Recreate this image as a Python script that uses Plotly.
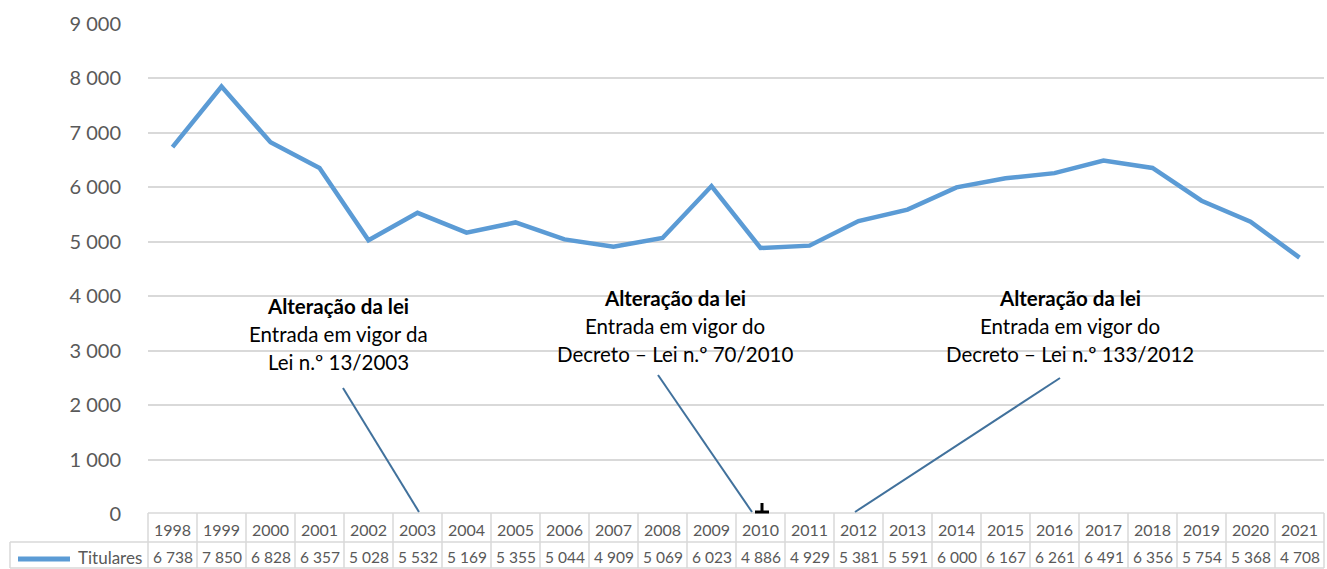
import plotly.graph_objects as go

years = list(range(1998, 2022))
titulares = [6738, 7850, 6828, 6357, 5028, 5532, 5169, 5355, 5044, 4909, 5069, 6023,
             4886, 4929, 5381, 5591, 6000, 6167, 6261, 6491, 6356, 5754, 5368, 4708]
series_name = "Titulares"
yticks = list(range(0, 10000, 1000))
notes = [
    ("Alteração da lei", "Entrada em vigor da", "Lei n.º 13/2003"),
    ("Alteração da lei", "Entrada em vigor do", "Decreto – Lei n.º 70/2010"),
    ("Alteração da lei", "Entrada em vigor do", "Decreto – Lei n.º 133/2012"),
]

W, H = 1327, 569
L, R = 148, 1324
T, B = 24, 514
PW, PH = R - L, B - T
FONT = "Lato, Open Sans, sans-serif"
BLUE = "#5B9BD5"
GRID = "#D9D9D9"
TXT = "#595959"

def px(p):
    return (p - L) / PW

def py(p):
    return (B - p) / PH

def fmt(v):
    return f"{v:,}".replace(",", " ")

fig = go.Figure()
fig.add_trace(go.Scatter(x=years, y=titulares, mode="lines", name=series_name,
                         line=dict(color=BLUE, width=4.5), showlegend=False, hoverinfo="skip"))

shapes = []
ann = []
# table
row1_top, row1_bot, row2_bot = 513, 542, 568
line = dict(color=GRID, width=1.5)
shapes.append(dict(type="line", xref="paper", yref="paper", x0=px(L), x1=px(R), y0=py(row1_top), y1=py(row1_top), line=line))
shapes.append(dict(type="line", xref="paper", yref="paper", x0=px(10), x1=px(R), y0=py(row1_bot), y1=py(row1_bot), line=line))
shapes.append(dict(type="line", xref="paper", yref="paper", x0=px(10), x1=px(R), y0=py(row2_bot), y1=py(row2_bot), line=line))
shapes.append(dict(type="line", xref="paper", yref="paper", x0=px(10), x1=px(10), y0=py(row1_bot), y1=py(row2_bot), line=line))
ncol = len(years)
for i in range(ncol + 1):
    xp = L + i * PW / ncol
    shapes.append(dict(type="line", xref="paper", yref="paper", x0=px(xp), x1=px(xp),
                       y0=py(row1_top), y1=py(row2_bot), line=line))
for y, v in zip(years, titulares):
    ann.append(dict(x=y, xref="x", y=py(529), yref="paper", text=str(y), xanchor="center", yanchor="middle",
                    showarrow=False, font=dict(size=16, color=TXT, family=FONT)))
    ann.append(dict(x=y, xref="x", y=py(557), yref="paper", text=fmt(v), xanchor="center", yanchor="middle",
                    showarrow=False, font=dict(size=15.5, color=TXT, family=FONT)))
# legend key in table
shapes.append(dict(type="line", xref="paper", yref="paper", x0=px(18), x1=px(70),
                   y0=py(559), y1=py(559), line=dict(color=BLUE, width=5)))
ann.append(dict(x=px(144), xref="paper", y=py(557), yref="paper", text=series_name, xanchor="right",
                yanchor="middle", showarrow=False, font=dict(size=17, color=TXT, family=FONT)))

# notes
centers = [(338, 306, (343, 388), (419, 512)),
           (675, 298, (658, 375), (752, 512)),
           (1070, 298, (1060, 378), (855, 512))]
for (t1, t2, t3), (cx, cy, a, b) in zip(notes, centers):
    for k, t in enumerate((t1, t2, t3)):
        txt = f"<b>{t}</b>" if k == 0 else t
        ann.append(dict(x=px(cx), xref="paper", y=py(cy + k * 28), yref="paper", text=txt,
                        xanchor="center", yanchor="middle",
                        showarrow=False, font=dict(size=20.5, color="#000000", family=FONT)))
    shapes.append(dict(type="line", xref="paper", yref="paper", x0=px(a[0]), y0=py(a[1]),
                       x1=px(b[0]), y1=py(b[1]), line=dict(color="#41719C", width=2)))
# small T mark at 2010
shapes.append(dict(type="line", xref="paper", yref="paper", x0=px(762), x1=px(762), y0=py(503), y1=py(512),
                   line=dict(color="#000000", width=3)))
shapes.append(dict(type="line", xref="paper", yref="paper", x0=px(755), x1=px(769), y0=py(512), y1=py(512),
                   line=dict(color="#000000", width=3)))

fig.update_layout(
    width=W, height=H,
    margin=dict(l=L, r=W - R, t=T, b=H - B, pad=0),
    paper_bgcolor="white", plot_bgcolor="white",
    separators=", ",
    hovermode=False,
    xaxis=dict(range=[years[0] - 0.5, years[-1] + 0.5], showticklabels=False, showgrid=False,
               zeroline=False, showline=False, ticks=""),
    yaxis=dict(range=[0, 9000], tickvals=yticks, tickformat=",d", showgrid=True, gridcolor=GRID,
               gridwidth=1.5, zeroline=False, showline=False, ticks="outside", ticklen=22,
               tickcolor="rgba(0,0,0,0)", tickfont=dict(size=20, color=TXT, family=FONT)),
    shapes=shapes, annotations=ann,
)
fig.write_html("out.html", config={"displayModeBar": False},
               post_script="document.body.style.margin='0px';")
